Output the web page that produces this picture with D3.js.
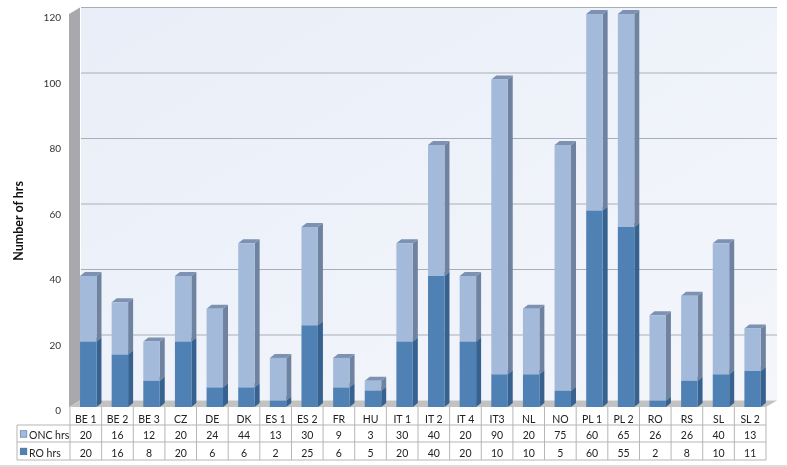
<!DOCTYPE html>
<meta charset="utf-8">

<style>
html, body { margin: 0; padding: 0; background: #fff; }
svg { display: block; filter: blur(0.35px); }
text { font-family: Lato, "Open Sans", sans-serif; fill: #222; }
.tick line, .domain { display: none; }
.tick text { font-size: 10px; fill: #333; }
.cell { font-size: 10.5px; text-anchor: middle; }
.grid { stroke: #a9adb5; stroke-width: 1.2px; }
.tbl { stroke: #b5b5b5; stroke-width: 1px; fill: none; }
</style>

<body>
<script src="https://d3js.org/d3.v7.min.js"></script>
<script>

var categories = ["BE 1", "BE 2", "BE 3", "CZ", "DE", "DK", "ES 1", "ES 2", "FR", "HU", "IT 1", "IT 2", "IT 4", "IT3", "NL", "NO", "PL 1", "PL 2", "RO", "RS", "SL", "SL 2"];
var oncHrs = [20, 16, 12, 20, 24, 44, 13, 30, 9, 3, 30, 40, 20, 90, 20, 75, 60, 65, 26, 26, 40, 13];
var roHrs = [20, 16, 8, 20, 6, 6, 2, 25, 6, 5, 20, 40, 20, 10, 10, 5, 60, 55, 2, 8, 10, 11];
var yTicks = [0, 20, 40, 60, 80, 100, 120];

var width = 787;
var height = 467;
var depthX = 11;   // wall depth
var depthY = 6.5;
var barDX = 5;     // bar depth
var barDY = 4;

var svg = d3.select("body").append("svg")
    .attr("width", width)
    .attr("height", height);

var x = d3.scaleBand()
    .domain(categories)
    .range([70, 766])
    .paddingInner(0.48)
    .paddingOuter(0.24)
    .align(0.66);

var y = d3.scaleLinear()
    .domain([0, 120])
    .range([407, 14]);

function poly(pts, fill) {
  return svg.append("polygon")
      .attr("points", pts.map(function(p) { return p.join(","); }).join(" "))
      .attr("fill", fill);
}

var defs = svg.append("defs");
var wall = defs.append("linearGradient").attr("id", "wall").attr("x1", 0).attr("x2", 1).attr("y1", 0).attr("y2", 1);
wall.append("stop").attr("offset", 0).attr("stop-color", "#e9eef8");
wall.append("stop").attr("offset", 1).attr("stop-color", "#f4f6fb");

// back wall, left wall, floor
poly([[70 + depthX, y(120) - depthY], [766 + depthX, y(120) - depthY], [766 + depthX, y(0) - depthY], [70 + depthX, y(0) - depthY]], "url(#wall)");
poly([[69, y(120)], [69 + depthX, y(120) - depthY], [69 + depthX, y(0) - depthY], [69, y(0)]], "#a9a9ad");
poly([[69, y(0)], [69 + depthX, y(0) - depthY], [766 + depthX, y(0) - depthY], [766, y(0)]], "#c2c2c2");

svg.append("g").selectAll("line")
    .data(yTicks.slice(1))
  .enter().append("line")
    .attr("class", "grid")
    .attr("x1", 70 + depthX)
    .attr("x2", 766 + depthX)
    .attr("y1", function(d) { return y(d) - depthY; })
    .attr("y2", function(d) { return y(d) - depthY; });

svg.append("g")
    .attr("transform", "translate(65,3.5)")
    .call(d3.axisLeft(y).tickValues(yTicks).tickSize(0).tickPadding(4));

svg.append("text")
    .attr("transform", "translate(23,221) rotate(-90)")
    .attr("text-anchor", "middle")
    .style("font-size", "12.5px")
    .style("font-weight", "bold")
    .style("fill", "#111")
    .text("Number of hrs");

function drawSeg(left, v0, v1, front, side, top) {
  var w = x.bandwidth();
  var y0 = y(v0), y1 = y(v1);
  poly([[left + w, y1], [left + w + barDX, y1 - barDY], [left + w + barDX, y0 - barDY], [left + w, y0]], side);
  poly([[left, y1], [left + barDX, y1 - barDY], [left + w + barDX, y1 - barDY], [left + w, y1]], top);
  poly([[left, y1], [left + w, y1], [left + w, y0], [left, y0]], front);
}

categories.forEach(function(c, i) {
  var left = x(c);
  var ro = roHrs[i];
  var total = ro + oncHrs[i];
  drawSeg(left, 0, ro, "#4f81b5", "#37628f", "#5a82ad");
  drawSeg(left, ro, total, "#a4bada", "#6f83a1", "#7d92b3");
});

// data table
var rowYs = [407, 425, 442, 460];
var baselines = [423, 439, 456.5];
var tableLeft = 17;
var colW = 696 / categories.length;
var colX = categories.map(function(d, i) { return 70 + i * colW; });

var tbl = svg.append("g");
colX.concat([766]).forEach(function(cx) {
  tbl.append("line").attr("class", "tbl")
      .attr("x1", cx).attr("x2", cx).attr("y1", rowYs[0]).attr("y2", rowYs[3]);
});
tbl.append("line").attr("class", "tbl").attr("x1", tableLeft).attr("x2", tableLeft).attr("y1", rowYs[1]).attr("y2", rowYs[3]);
[1, 2, 3].forEach(function(r) {
  tbl.append("line").attr("class", "tbl").attr("x1", tableLeft).attr("x2", 766).attr("y1", rowYs[r]).attr("y2", rowYs[r]);
});

[categories, oncHrs, roHrs].forEach(function(row, r) {
  tbl.selectAll(".r" + r)
      .data(row)
    .enter().append("text")
      .attr("class", "cell r" + r)
      .attr("x", function(d, i) { return colX[i] + colW / 2; })
      .attr("y", baselines[r])
      .text(function(d) { return d; });
});

// legend keys
[["ONC hrs", "#a4bada", "#5a7ba8", 1], ["RO hrs", "#4f81b5", "#3d6a9c", 2]].forEach(function(k) {
  var b = baselines[k[3]];
  tbl.append("rect")
      .attr("x", 20.3).attr("y", b - 8.3).attr("width", 6.5).attr("height", 6.5)
      .attr("fill", k[1]).attr("stroke", k[2]).attr("stroke-width", 0.7);
  tbl.append("text")
      .attr("x", 29).attr("y", b)
      .style("font-size", "10.5px")
      .text(k[0]);
});

// grey rule along the bottom of the image
svg.append("line")
    .attr("x1", 0).attr("x2", width)
    .attr("y1", 466).attr("y2", 466)
    .attr("stroke", "#d0d0d0")
    .attr("stroke-width", 1.5);

</script>
</body>
